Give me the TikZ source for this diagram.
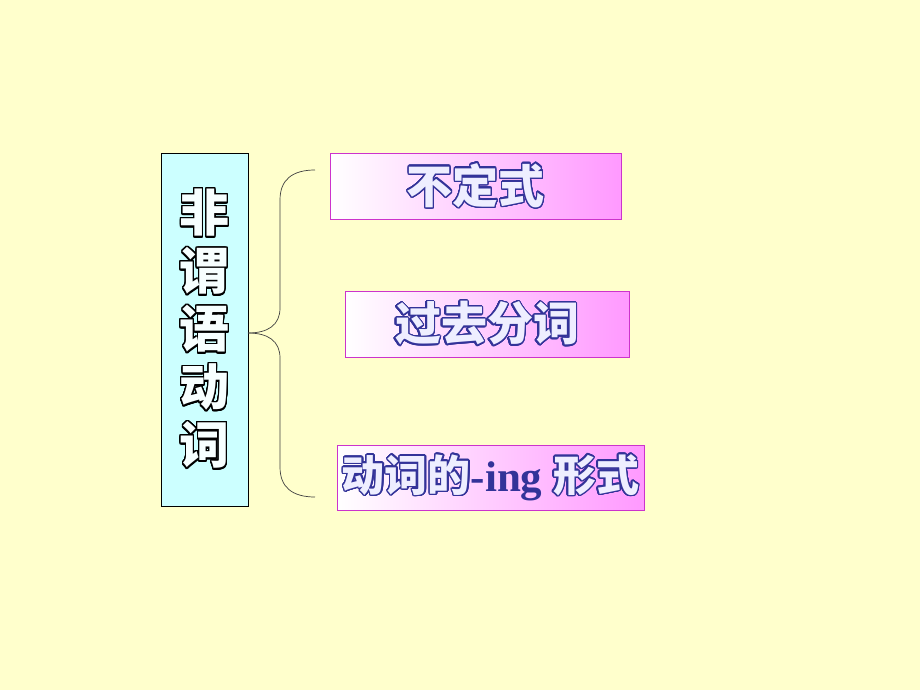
\documentclass[tikz,border=0pt]{standalone}
\usepackage{fontspec}
\usepackage{contour}
\newfontfamily\cjk{Noto Sans CJK SC}
\setmainfont{Liberation Serif}
\definecolor{bgyellow}{HTML}{FFFFCC}
\definecolor{catcyan}{HTML}{CCFFFF}
\definecolor{boxpink}{HTML}{FF99FF}
\definecolor{boxedge}{HTML}{CC33CC}
\definecolor{navy}{HTML}{333399}
\definecolor{pale}{HTML}{EEEEFF}
\contournumber{32}
\newcommand{\pinktxt}[1]{\contourlength{1.3pt}\contour{navy}{\textcolor{pale}{\cjk\bfseries #1}}}
\newcommand{\cattxt}[1]{\contourlength{1.4pt}\contour{black}{\textcolor{white!85!catcyan}{\cjk\bfseries #1}}}

\begin{document}
\begin{tikzpicture}
[
  x=1pt, y=-1pt,
  catbox/.style={draw=black, fill=catcyan, minimum width=87pt, minimum height=353pt, inner sep=0pt},
  kindbox/.style={draw=boxedge, left color=white, right color=boxpink, minimum height=66pt, inner sep=0pt, font=\fontsize{46}{50}\selectfont},
  bracel/.style={draw=black!75, line width=0.7pt}
]
\fill[bgyellow] (0,0) rectangle (920,690);
\useasboundingbox (0,0) rectangle (920,690);

% category
\node[catbox, align=center, font=\fontsize{50}{58}\selectfont] (cat) at (204.5,329.5)
  {\cattxt{非}\\\cattxt{谓}\\\cattxt{语}\\\cattxt{动}\\\cattxt{词}};

% kinds
\node[kindbox, minimum width=291pt] (inf) at (475.5,186) {\pinktxt{不定式}};
\node[kindbox, minimum width=284pt] (pp) at (487,324) {\pinktxt{过去分词}};
\node[kindbox, minimum width=307pt, minimum height=65pt, font=\fontsize{43}{48}\selectfont] (ing) at (490.5,477.5)
  {\pinktxt{动词的}\textcolor{navy}{\bfseries\fontsize{43}{48}\selectfont -ing }\pinktxt{形式}};

% brace
\coordinate (tip) at (248,333);
\coordinate (top) at (315,170);
\coordinate (bot) at (315,497);
\draw[bracel] (top) .. controls (292,170) and (280,180) .. (280,200)
  -- (280,308) .. controls (280,325) and (268,333) .. (tip);
\draw[bracel] (bot) .. controls (292,497) and (280,487) .. (280,467)
  -- (280,358) .. controls (280,341) and (268,333) .. (tip);
\end{tikzpicture}
\end{document}
